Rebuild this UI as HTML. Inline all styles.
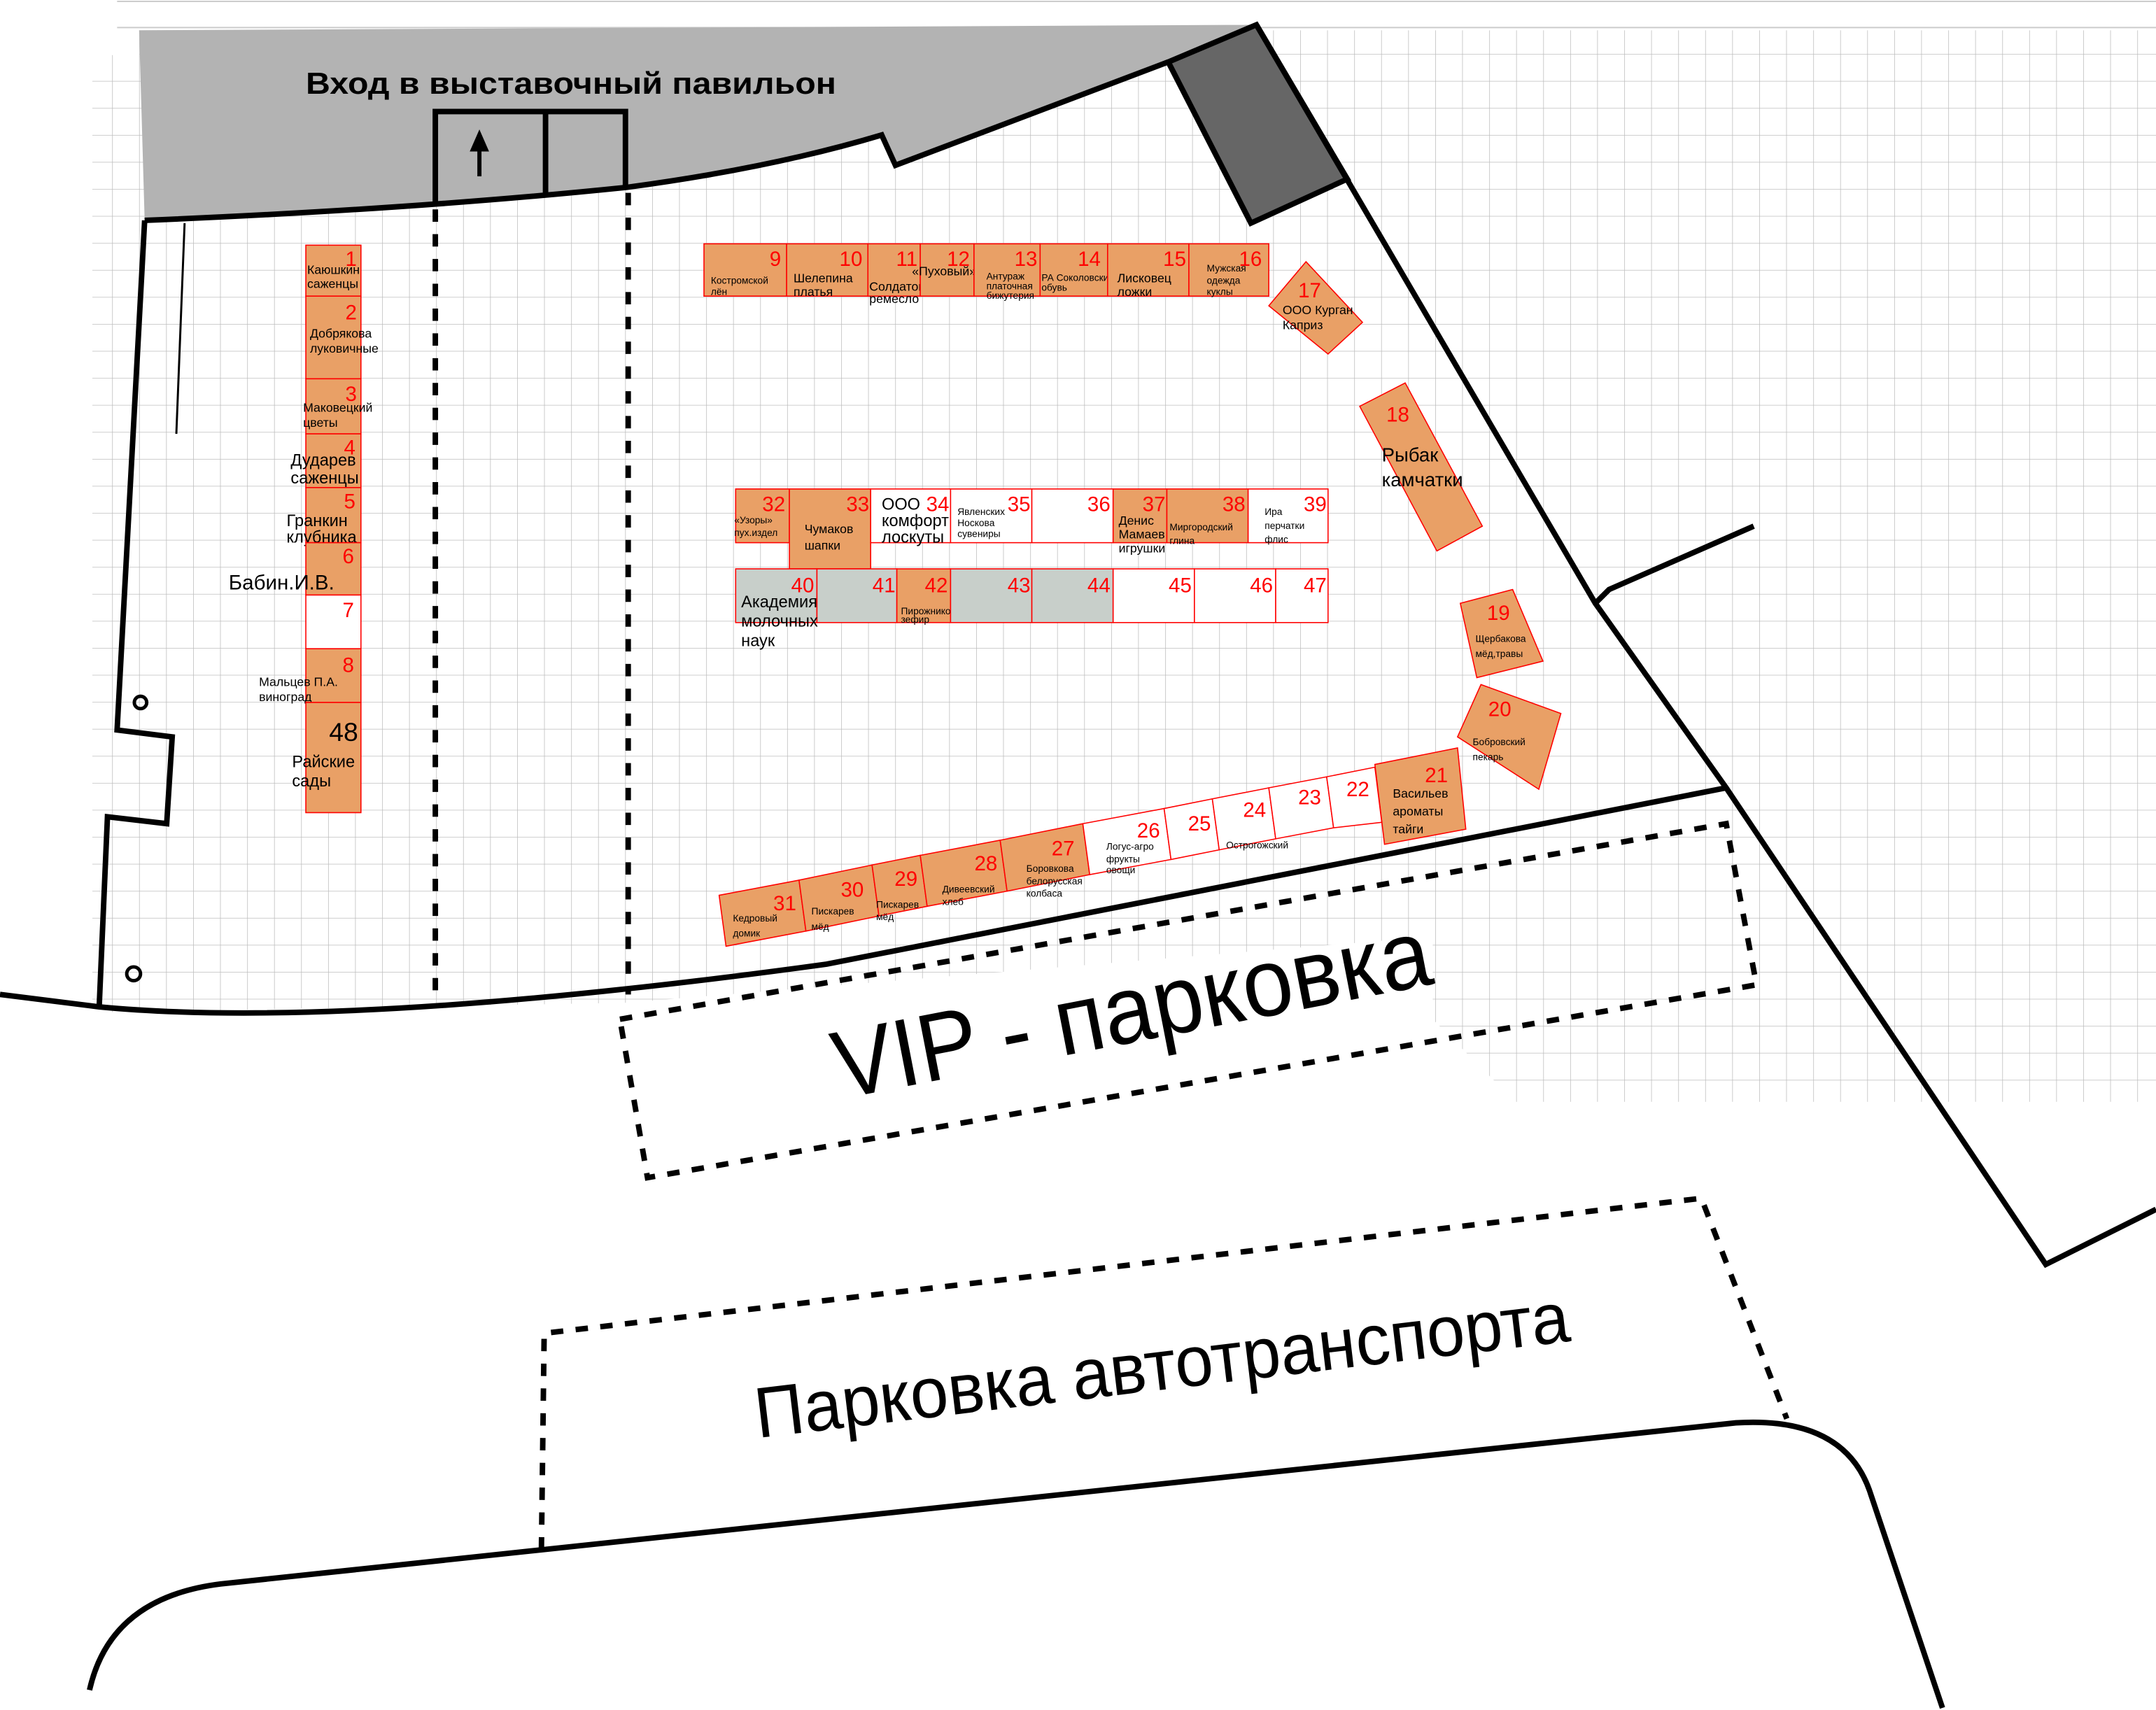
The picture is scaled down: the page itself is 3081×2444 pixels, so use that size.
<!DOCTYPE html>
<html><head><meta charset="utf-8"><style>
html,body{margin:0;padding:0;background:#fff;}
svg{display:block;}
text{font-family:"Liberation Sans","DejaVu Sans",sans-serif;}
.n{fill:#f00;font-size:15px;text-anchor:end;}
.t{fill:#000;font-size:9px;}
.s{fill:#000;font-size:7px;}
.m{fill:#000;font-size:12px;}
.o{fill:#e9a066;stroke:#f00;stroke-width:0.8;}
.w{fill:#fff;stroke:#f00;stroke-width:0.8;}
.g{fill:#c8cfca;stroke:#f00;stroke-width:0.8;}
.b{fill:none;stroke:#000;stroke-width:4;stroke-linejoin:miter;}
.d{fill:none;stroke:#000;stroke-width:4;stroke-dasharray:9,9;}
</style></head><body>
<svg width="3081" height="2444" viewBox="0 0 1565 1241.5" preserveAspectRatio="none" xmlns="http://www.w3.org/2000/svg">
<defs>
<pattern id="grid" width="19.6" height="19.6" patternUnits="userSpaceOnUse" x="3" y="0">
<path d="M0,0 H19.6 M0,0 V19.6" stroke="#bdbdbd" stroke-width="0.8" fill="none"/>
</pattern>
<clipPath id="gc"><polygon points="67,40 101,40 101,22 1565,22 1565,800 1100,800 1040,740 1040,680 455,728 72,735 67,735"/></clipPath>
</defs>
<rect width="1565" height="1241.5" fill="#fff"/>
<line x1="85" y1="1" x2="1565" y2="1" stroke="#ccc" stroke-width="1"/>
<line x1="85" y1="20" x2="1565" y2="20" stroke="#ccc" stroke-width="1"/>
<rect x="0" y="0" width="1565" height="1241.5" fill="url(#grid)" clip-path="url(#gc)"/>

<!-- pavilion -->
<path d="M101,22 L912,18 L848,45 L908,160 L978,130 L912,18 L848,45 L650,120 L640,98 Q550,125 455,136 Q300,152 105,160 Z" fill="#b3b3b3"/>
<polygon points="848,45 912,18 978,130 908,162" fill="#666" stroke="#000" stroke-width="4"/>
<path class="b" d="M105,160 Q300,152 455,136 Q560,122 640,98 L650,120 L848,45"/>
<text x="222" y="68" font-size="22" font-weight="bold" textLength="385" lengthAdjust="spacingAndGlyphs">Вход в выставочный павильон</text>
<path class="b" d="M316,148 V81 H454 V136 M396,81 V142"/>
<line x1="348" y1="128" x2="348" y2="108" stroke="#000" stroke-width="3"/>
<polygon points="348,94 341,110 355,110" fill="#000"/>

<!-- boundaries -->
<path class="b" d="M105,160 L85,530 L125,535 L121,598 L78,593 L72,731"/>
<line x1="134" y1="162" x2="128" y2="315" stroke="#000" stroke-width="1.5"/>
<path class="b" d="M0,722 L72,731 Q250,748 600,700 L1253,572"/>
<path class="b" d="M912,18 L1158,438 L1253,572 L1485,918 L1565,878"/>
<path class="b" d="M1158,438 L1168,428 L1273,382"/>
<circle cx="102" cy="510" r="4.5" fill="none" stroke="#000" stroke-width="2.5"/>
<circle cx="97" cy="707" r="5" fill="none" stroke="#000" stroke-width="2.5"/>
<line class="d" x1="316" y1="152" x2="316" y2="720"/>
<line class="d" x1="456" y1="140" x2="456" y2="722"/>

<!-- VIP parking -->
<path class="d" d="M450,740 L1253,598 L1275,715 L470,855 Z"/>
<text transform="translate(610,798) rotate(-11)" font-size="70" textLength="440" lengthAdjust="spacingAndGlyphs">VIP - парковка</text>
<path class="d" d="M393,1125 L395,968 L1235,870 L1297,1030"/>
<text transform="translate(550,1044) rotate(-6.8)" font-size="52" textLength="595" lengthAdjust="spacingAndGlyphs">Парковка автотранспорта</text>
<path class="b" d="M65,1227 Q80,1160 160,1150 L1260,1033 Q1340,1028 1358,1085 L1410,1240"/>

<!-- left column -->
<rect class="o" x="222" y="178" width="40" height="37"/><text class="n" x="259" y="193">1</text><text class="t" x="223" y="199">Каюшкин</text><text class="t" x="223" y="209">саженцы</text>
<rect class="o" x="222" y="215" width="40" height="60"/><text class="n" x="259" y="232">2</text><text class="t" x="225" y="245">Добрякова</text><text class="t" x="225" y="256">луковичные</text>
<rect class="o" x="222" y="275" width="40" height="40"/><text class="n" x="259" y="291">3</text><text class="t" x="220" y="299">Маковецкий</text><text class="t" x="220" y="310">цветы</text>
<rect class="o" x="222" y="315" width="40" height="39"/><text class="n" x="258" y="330">4</text><text class="m" x="211" y="338">Дударев</text><text class="m" x="211" y="351">саженцы</text>
<rect class="o" x="222" y="354" width="40" height="40"/><text class="n" x="258" y="369">5</text><text class="m" x="208" y="382">Гранкин</text><text class="m" x="208" y="394">клубника</text>
<rect class="o" x="222" y="394" width="40" height="38"/><text class="n" x="257" y="409">6</text><text x="166" y="428" font-size="15">Бабин.И.В.</text>
<rect class="w" x="222" y="432" width="40" height="39"/><text class="n" x="257" y="448">7</text>
<rect class="o" x="222" y="471" width="40" height="39"/><text class="n" x="257" y="488">8</text><text class="t" x="188" y="498">Мальцев П.А.</text><text class="t" x="188" y="509">виноград</text>
<rect class="o" x="222" y="510" width="40" height="80"/><text x="260" y="538" font-size="19" text-anchor="end">48</text><text class="m" x="212" y="557">Райские</text><text class="m" x="212" y="571">сады</text>

<!-- top row -->
<rect class="o" x="511" y="177" width="60" height="38"/><text class="n" x="567" y="193">9</text><text class="s" x="516" y="206">Костромской</text><text class="s" x="516" y="214">лён</text>
<rect class="o" x="571" y="177" width="59" height="38"/><text class="n" x="626" y="193">10</text><text class="t" x="576" y="205">Шелепина</text><text class="t" x="576" y="215">платья</text>
<rect class="o" x="630" y="177" width="38" height="38"/><text class="n" x="666" y="193">11</text><text class="t" x="631" y="211">Солдатов</text><text class="t" x="631" y="220">ремесло</text>
<rect class="o" x="668" y="177" width="39" height="38"/><text class="n" x="704" y="193">12</text><text class="t" x="662" y="200">«Пуховый»</text>
<rect class="o" x="707" y="177" width="48" height="38"/><text class="n" x="753" y="193">13</text><text class="s" x="716" y="203">Антураж</text><text class="s" x="716" y="210">платочная</text><text class="s" x="716" y="217">бижутерия</text>
<rect class="o" x="755" y="177" width="49" height="38"/><text class="n" x="799" y="193">14</text><text class="s" x="756" y="204" font-size="6">РА Соколовских</text><text class="s" x="756" y="211">обувь</text>
<rect class="o" x="804" y="177" width="59" height="38"/><text class="n" x="861" y="193">15</text><text class="t" x="811" y="205">Лисковец</text><text class="t" x="811" y="215">ложки</text>
<rect class="o" x="863" y="177" width="58" height="38"/><text class="n" x="916" y="193">16</text><text class="s" x="876" y="197">Мужская</text><text class="s" x="876" y="206">одежда</text><text class="s" x="876" y="214">куклы</text>
<polygon class="o" points="948,190 989,234 964,257 921,222"/><text class="n" x="959" y="216">17</text><text class="t" x="931" y="228">ООО Курган</text><text class="t" x="931" y="239">Каприз</text>
<polygon class="o" points="987,295 1020,278 1076,382 1043,400"/><text class="n" x="1023" y="306">18</text><text x="1003" y="335" font-size="14">Рыбак</text><text x="1003" y="353" font-size="14">камчатки</text>

<!-- row 32-39 -->
<rect class="o" x="534" y="355" width="39" height="39"/><text class="n" x="570" y="371">32</text><text class="s" x="533" y="380">«Узоры»</text><text class="s" x="533" y="389">пух.издел</text>
<rect class="o" x="573" y="355" width="59" height="58"/><text class="n" x="631" y="371">33</text><text class="t" x="584" y="387">Чумаков</text><text class="t" x="584" y="399">шапки</text>
<rect class="w" x="632" y="355" width="58" height="39"/><text class="n" x="689" y="371">34</text><text x="640" y="370" font-size="12">ООО</text><text x="640" y="382" font-size="12">комфорт</text><text x="640" y="394" font-size="12">лоскуты</text>
<rect class="w" x="690" y="355" width="59" height="39"/><text class="n" x="748" y="371">35</text><text class="s" x="695" y="374">Явленских</text><text class="s" x="695" y="382">Носкова</text><text class="s" x="695" y="390">сувениры</text>
<rect class="w" x="749" y="355" width="59" height="39"/><text class="n" x="806" y="371">36</text>
<rect class="o" x="808" y="355" width="39" height="39"/><text class="n" x="846" y="371">37</text><text class="t" x="812" y="381">Денис</text><text class="t" x="812" y="391">Мамаев</text><text class="t" x="812" y="401">игрушки</text>
<rect class="o" x="847" y="355" width="59" height="39"/><text class="n" x="904" y="371">38</text><text class="s" x="849" y="385">Миргородский</text><text class="s" x="849" y="395">глина</text>
<rect class="w" x="906" y="355" width="58" height="39"/><text class="n" x="963" y="371">39</text><text class="s" x="918" y="374">Ира</text><text class="s" x="918" y="384">перчатки</text><text class="s" x="918" y="394">флис</text>

<!-- row 40-47 -->
<rect class="g" x="534" y="413" width="59" height="39"/><text class="n" x="591" y="430">40</text>
<rect class="g" x="593" y="413" width="58" height="39"/><text class="n" x="650" y="430">41</text>
<rect class="o" x="651" y="413" width="39" height="39"/><text class="n" x="688" y="430">42</text><text class="s" x="654" y="446" font-size="5.5">Пирожникоф</text><text class="s" x="654" y="452" font-size="5.5">зефир</text>
<rect class="g" x="690" y="413" width="59" height="39"/><text class="n" x="748" y="430">43</text>
<rect class="g" x="749" y="413" width="59" height="39"/><text class="n" x="806" y="430">44</text>
<rect class="w" x="808" y="413" width="59" height="39"/><text class="n" x="865" y="430">45</text>
<rect class="w" x="867" y="413" width="59" height="39"/><text class="n" x="924" y="430">46</text>
<rect class="w" x="926" y="413" width="38" height="39"/><text class="n" x="963" y="430">47</text>
<text x="538" y="441" font-size="12">Академия</text><text x="538" y="455" font-size="12">молочных</text><text x="538" y="469" font-size="12">наук</text>

<!-- right pieces -->
<polygon class="o" points="1060,438 1098,428 1120,480 1072,492"/><text class="n" x="1096" y="450">19</text><text class="s" x="1071" y="466" font-size="8">Щербакова</text><text class="s" x="1071" y="477" font-size="8">мёд,травы</text>
<polygon class="o" points="1075,497 1133,518 1117,573 1058,535"/><text class="n" x="1097" y="520">20</text><text class="s" x="1069" y="541" font-size="8">Бобровский</text><text class="s" x="1069" y="552" font-size="8">пекарь</text>
<polygon class="o" points="998,555 1058,543 1064,602 1005,613"/><text class="n" x="1051" y="568">21</text><text class="t" x="1011" y="579" font-size="11">Васильев</text><text class="t" x="1011" y="592" font-size="11">ароматы</text><text class="t" x="1011" y="605" font-size="11">тайги</text>

<!-- angled row -->
<g>
<polygon class="o" points="522,650 580,639 585,676 527,687"/>
<polygon class="o" points="580,639 633,628 638,665 585,676"/>
<polygon class="o" points="633,628 668,621 673,658 638,665"/>
<polygon class="o" points="668,621 726,610 731,647 673,658"/>
<polygon class="o" points="726,610 786,598 791,635 731,647"/>
<polygon class="w" points="786,598 845,587 850,624 791,635"/>
<polygon class="w" points="845,587 880,580 885,617 850,624"/>
<polygon class="w" points="880,580 921,572 926,609 885,617"/>
<polygon class="w" points="921,572 963,564 968,601 926,609"/>
<polygon class="w" points="963,564 998,557 1003,597 968,601"/>
</g>
<text class="n" x="578" y="661">31</text><text class="s" x="532" y="669" font-size="8">Кедровый</text><text class="s" x="532" y="680" font-size="8">домик</text>
<text class="n" x="627" y="651">30</text><text class="s" x="589" y="664" font-size="8">Пискарев</text><text class="s" x="589" y="675" font-size="8">мёд</text>
<text class="n" x="666" y="643">29</text><text class="s" x="636" y="659">Пискарев</text><text class="s" x="636" y="668">мёд</text>
<text class="n" x="724" y="632">28</text><text class="s" x="684" y="648">Дивеевский</text><text class="s" x="684" y="657">хлеб</text>
<text class="n" x="780" y="621">27</text><text class="s" x="745" y="633">Боровкова</text><text class="s" x="745" y="642">белорусская</text><text class="s" x="745" y="651">колбаса</text>
<text class="n" x="842" y="608">26</text><text class="s" x="803" y="617">Логус-агро</text><text class="s" x="803" y="626">фрукты</text><text class="s" x="803" y="634">овощи</text>
<text class="n" x="879" y="603">25</text>
<text class="n" x="919" y="593">24</text><text class="s" x="890" y="616">Острогожский</text>
<text class="n" x="959" y="584">23</text>
<text class="n" x="994" y="578">22</text>
</svg>
</body></html>
